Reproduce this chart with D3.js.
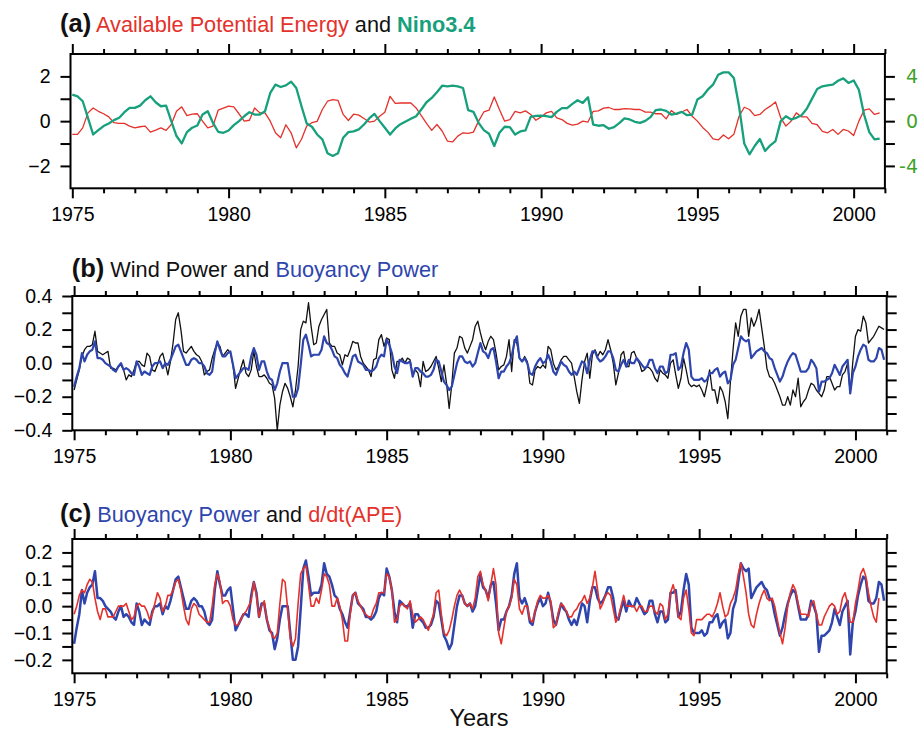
<!DOCTYPE html>
<html>
<head>
<meta charset="utf-8">
<script src="https://cdn.jsdelivr.net/npm/d3@7/dist/d3.min.js"></script>
<style>
  html, body { margin: 0; padding: 0; background: #fff; }
  svg { display: block; font-family: "Liberation Sans", Arial, Helvetica, sans-serif; }
</style>
</head>
<body>
<svg id="chart" width="919" height="732"></svg>
<script>
// ---- Data -------------------------------------------------------------
const startYear = 1975;               // first sample: January 1975
const yearTicks = d3.range(1975, 2002);
const yearLabels = [1975, 1980, 1985, 1990, 1995, 2000];

// Available potential energy (left axis) and Nino3.4 index (right axis), every 2 months
const ape = [
  -0.59,-0.59,-0.30,0.37,0.59,0.44,0.33,0.19,-0.07,-0.10,-0.10,-0.22,
  -0.30,-0.25,-0.22,-0.49,-0.40,-0.30,-0.41,-0.15,0.44,0.64,0.25,0.31,
  0.33,0.00,-0.30,-0.22,0.49,0.58,0.67,0.64,0.33,0.00,0.04,0.59,
  0.37,0.37,0.00,-0.52,-0.74,-0.16,-0.52,-1.19,-0.81,-0.22,-0.07,-0.01,
  0.52,0.89,0.96,0.93,0.30,0.03,0.31,0.27,0.12,-0.04,0.00,0.22,
  0.40,1.11,0.79,0.81,0.81,0.81,0.59,0.25,-0.10,-0.41,-0.15,-0.44,
  -0.89,-0.93,-0.67,-0.52,-0.55,-0.49,0.00,0.41,0.49,1.08,0.52,0.00,
  0.07,0.44,0.37,0.46,0.30,0.04,0.19,0.37,0.44,0.15,0.07,-0.10,
  -0.18,-0.13,0.00,-0.04,0.44,0.46,0.58,0.61,0.52,0.52,0.56,0.55,
  0.52,0.52,0.40,0.40,0.33,0.34,0.10,0.47,0.30,0.41,0.52,0.22,
  0.00,-0.28,-0.49,-0.79,-0.84,-0.62,-0.79,-0.59,0.22,0.62,0.52,0.25,
  0.30,0.52,0.67,0.86,0.15,-0.22,0.00,0.37,0.19,0.19,-0.10,-0.16,
  -0.46,-0.52,-0.37,-0.59,-0.37,-0.44,-0.64,0.00,0.49,0.55,0.30,0.37
];
const nino34 = [
  2.37,2.22,1.78,0.30,-1.19,-0.80,-0.44,-0.21,0.09,0.30,0.80,1.19,
  1.19,1.39,1.87,2.22,1.69,1.33,1.39,0.00,-1.33,-1.99,-0.98,-0.59,
  -0.39,0.59,0.89,-0.15,-0.95,-1.04,-0.83,-0.36,0.00,0.44,0.80,0.59,
  0.59,0.89,2.52,3.26,3.05,3.20,3.53,2.96,1.33,-0.21,-0.50,-1.19,
  -1.63,-2.87,-3.11,-2.87,-1.48,-0.98,-0.92,-0.74,-0.30,0.24,0.65,0.00,
  -0.59,-1.19,-0.65,-0.27,-0.03,0.21,0.44,1.04,1.69,2.07,2.58,3.17,
  3.11,3.17,3.11,2.96,0.98,0.83,-0.15,-0.80,-1.13,-2.22,-1.04,-0.50,
  -0.53,-1.19,-0.92,-0.83,0.39,0.47,0.50,0.44,0.36,0.83,1.16,1.16,
  1.54,1.87,1.63,2.13,-0.30,-0.41,-0.36,-0.68,-0.53,-0.18,0.24,0.15,
  -0.06,-0.15,0.03,0.36,0.98,1.04,0.92,0.59,0.68,0.83,0.53,0.59,
  1.93,2.22,2.81,3.26,4.15,4.36,4.36,3.85,1.33,-2.00,-2.96,-2.22,
  -1.60,-2.67,-2.16,-1.78,0.00,0.44,0.15,0.30,0.53,1.10,1.99,2.87,
  3.11,3.20,3.26,3.61,3.82,3.41,3.64,2.81,0.59,-0.98,-1.63,-1.57
];

// Monthly wind power
const windPower = [
  -0.16,-0.10,-0.04,0.04,0.08,0.10,0.10,0.11,0.19,0.07,0.06,0.05,
  0.06,0.07,-0.03,-0.03,-0.04,-0.02,-0.01,-0.04,-0.10,-0.07,-0.08,-0.04,
  0.01,0.01,-0.01,-0.02,0.06,0.04,-0.04,-0.05,-0.01,0.04,0.06,0.00,
  -0.07,0.01,0.12,0.26,0.30,0.20,0.07,0.06,0.08,0.10,0.07,0.05,
  0.04,0.01,-0.07,-0.05,-0.04,0.03,0.08,0.12,0.10,0.04,0.06,0.08,
  0.06,-0.01,-0.15,-0.09,-0.03,0.02,-0.06,-0.08,-0.04,0.07,-0.02,-0.08,
  -0.08,-0.07,-0.09,-0.12,-0.13,-0.21,-0.40,-0.25,-0.17,-0.12,-0.15,-0.20,
  -0.26,-0.16,-0.02,0.20,0.25,0.24,0.36,0.22,0.11,0.12,0.22,0.26,
  0.29,0.32,0.12,0.10,0.10,0.06,0.05,-0.01,0.05,0.04,0.08,0.13,
  0.12,0.12,0.04,0.00,-0.02,-0.04,-0.08,0.02,0.03,0.14,0.17,0.10,
  0.15,0.14,-0.04,-0.09,0.01,0.01,0.03,0.00,0.03,0.02,-0.07,-0.04,
  -0.06,-0.14,0.01,-0.05,-0.04,-0.02,0.01,0.04,-0.03,-0.11,-0.01,-0.12,
  -0.27,-0.13,0.06,0.09,0.16,0.15,0.09,0.06,0.10,0.14,0.22,0.25,
  0.18,0.12,0.08,0.13,0.16,0.14,0.06,-0.04,-0.02,-0.01,0.04,0.14,
  -0.05,0.14,0.12,0.03,0.01,0.04,0.01,-0.12,-0.13,-0.04,-0.02,-0.03,
  -0.01,-0.03,0.10,0.08,0.00,-0.04,-0.02,0.02,0.04,0.04,0.02,0.00,
  -0.08,-0.17,-0.24,-0.10,0.01,0.06,-0.09,0.05,0.08,0.04,0.07,0.05,
  0.08,0.14,0.08,0.00,-0.13,-0.06,0.05,0.07,-0.02,-0.02,0.06,0.07,
  0.03,0.00,-0.05,-0.04,-0.02,-0.03,-0.05,-0.09,-0.11,-0.04,-0.06,-0.07,
  -0.09,0.00,0.02,-0.07,-0.15,-0.09,0.03,-0.04,-0.12,-0.14,-0.13,-0.14,
  -0.13,-0.16,-0.20,-0.13,-0.04,-0.16,-0.16,-0.24,-0.14,-0.17,-0.23,-0.33,
  -0.11,0.08,0.24,0.16,0.28,0.32,0.32,0.16,0.27,0.22,0.26,0.32,
  0.21,0.10,-0.03,-0.08,-0.09,-0.12,-0.16,-0.20,-0.25,-0.25,-0.20,-0.25,
  -0.16,-0.20,-0.09,-0.26,-0.23,-0.21,-0.16,-0.12,-0.13,-0.16,-0.18,-0.20,
  -0.16,-0.08,-0.08,-0.12,-0.16,-0.14,-0.14,-0.07,-0.05,0.00,-0.18,0.01,
  0.16,0.20,0.19,0.28,0.24,0.12,0.14,0.16,0.19,0.22,0.21,0.20
];

// Monthly buoyancy power (shown in panels b and c)
const buoyancyPower = [
  -0.14,-0.08,-0.03,0.06,0.01,0.05,0.07,0.08,0.13,0.03,0.03,0.02,
  0.00,-0.01,-0.02,-0.04,-0.05,-0.02,0.00,-0.04,-0.03,-0.04,-0.06,-0.07,
  0.01,-0.02,-0.07,-0.05,-0.06,-0.07,-0.02,0.00,0.00,0.01,-0.03,0.00,
  -0.01,0.02,0.06,0.10,0.11,0.07,0.03,-0.01,-0.01,0.02,0.03,0.02,
  0.00,0.00,-0.02,-0.06,-0.07,-0.05,0.06,0.13,0.08,0.04,0.04,0.06,
  0.07,-0.01,-0.09,-0.07,-0.05,-0.03,-0.03,-0.04,0.04,0.09,0.05,-0.04,
  0.01,0.01,-0.05,-0.09,-0.10,-0.16,-0.12,-0.05,0.00,0.00,0.00,-0.10,
  -0.20,-0.20,-0.15,-0.01,0.14,0.17,0.11,0.04,0.05,0.05,0.05,0.08,
  0.16,0.12,0.11,0.08,0.04,0.03,-0.01,-0.03,-0.06,-0.08,-0.02,0.04,
  0.05,0.01,0.00,-0.01,-0.04,-0.04,-0.05,-0.04,-0.02,0.03,0.05,0.04,
  0.14,0.11,0.06,-0.02,-0.06,0.02,0.01,0.00,0.00,0.01,-0.08,-0.03,
  -0.03,-0.05,-0.06,-0.08,-0.08,-0.07,-0.04,0.02,0.01,-0.05,-0.11,-0.13,
  -0.16,-0.14,-0.07,0.00,0.04,0.04,0.01,0.00,0.01,-0.02,0.00,0.06,
  0.12,0.07,0.06,0.03,0.08,0.09,0.01,-0.09,-0.05,-0.05,-0.02,0.00,
  0.04,0.12,0.16,0.03,0.01,0.03,0.00,-0.06,-0.07,-0.02,0.01,0.03,
  0.00,0.01,0.05,0.01,-0.05,-0.07,-0.03,0.01,-0.01,-0.02,-0.05,-0.07,
  -0.05,-0.07,-0.03,0.01,0.00,-0.06,0.02,0.07,0.07,0.03,0.01,0.02,
  0.04,0.07,0.07,0.03,-0.04,-0.05,-0.01,0.02,-0.02,0.02,0.00,0.00,
  0.03,0.01,-0.01,-0.03,-0.02,0.02,0.02,-0.03,-0.06,-0.02,-0.02,-0.06,
  -0.05,0.05,0.05,0.06,-0.04,-0.02,0.06,0.12,0.08,-0.08,-0.10,-0.10,
  -0.10,-0.09,-0.11,-0.10,-0.06,-0.06,-0.04,-0.03,-0.08,-0.06,-0.05,-0.12,
  -0.10,-0.01,0.02,0.09,0.16,0.14,0.13,0.14,0.03,0.05,0.07,0.08,
  0.09,0.07,0.06,0.03,0.02,-0.03,-0.07,-0.11,-0.08,-0.03,0.01,0.04,
  0.06,0.05,0.00,-0.05,-0.05,-0.05,-0.03,0.02,0.00,-0.03,-0.17,-0.11,
  -0.11,-0.10,-0.09,-0.06,-0.01,-0.04,-0.07,-0.02,0.00,0.02,-0.18,-0.06,
  -0.02,0.04,0.08,0.11,0.10,0.02,0.01,0.01,0.03,0.09,0.08,0.02
];

// Monthly rate of change of available potential energy
const dAPEdt = [
  -0.03,0.00,0.04,0.06,0.05,0.08,0.10,0.09,0.03,-0.02,-0.05,-0.01,
  -0.01,-0.04,-0.04,-0.04,-0.02,0.00,0.00,0.00,0.01,-0.02,-0.05,-0.04,
  0.00,0.01,0.00,0.00,-0.02,-0.05,-0.03,0.01,0.05,0.03,-0.02,0.00,
  0.04,0.04,0.06,0.09,0.10,0.06,0.00,-0.05,-0.07,-0.01,0.01,0.00,
  -0.03,-0.04,-0.05,-0.06,-0.06,0.00,0.08,0.12,0.09,0.01,0.02,0.02,
  0.00,-0.05,-0.07,-0.07,-0.05,-0.03,-0.02,0.00,0.02,0.09,0.04,-0.04,
  0.00,0.02,-0.05,-0.08,-0.11,-0.12,-0.10,0.01,0.10,0.09,-0.01,-0.12,
  -0.15,-0.12,0.01,0.12,0.14,0.15,0.08,0.00,0.00,0.03,0.01,0.06,
  0.12,0.11,0.08,0.00,0.00,0.03,0.00,-0.05,-0.13,-0.13,-0.03,0.04,
  0.05,0.02,0.00,-0.02,-0.03,-0.04,-0.04,-0.01,0.01,0.05,0.05,0.05,
  0.12,0.11,0.06,-0.06,-0.05,0.00,0.01,0.00,-0.01,0.02,-0.03,-0.06,
  -0.05,-0.04,-0.05,-0.07,-0.09,-0.06,-0.03,0.05,0.06,-0.03,-0.10,-0.11,
  -0.09,-0.05,0.00,0.04,0.06,0.04,0.01,0.00,0.01,-0.01,0.03,0.11,
  0.13,0.08,0.06,0.02,0.08,0.14,0.08,-0.10,-0.14,-0.08,-0.02,0.00,
  0.03,0.10,0.08,-0.01,-0.03,0.00,0.00,-0.05,-0.06,-0.02,0.02,0.04,
  0.03,0.03,0.04,0.02,-0.08,-0.07,-0.02,0.01,0.00,-0.02,-0.04,-0.04,
  -0.02,-0.01,0.01,0.02,0.04,0.01,0.03,0.07,0.13,0.06,-0.01,0.01,
  0.04,0.05,0.04,-0.01,-0.06,-0.04,0.00,0.04,0.00,0.00,0.00,0.00,
  -0.02,0.00,0.00,-0.02,-0.02,0.00,0.00,-0.02,-0.03,0.01,0.00,-0.05,
  -0.03,0.05,0.08,0.04,-0.04,-0.05,0.03,0.06,-0.01,-0.10,-0.11,-0.05,
  -0.05,-0.05,-0.04,-0.03,-0.03,-0.04,-0.02,0.01,0.05,0.00,-0.04,-0.03,
  0.01,0.03,0.06,0.12,0.16,0.11,0.05,-0.03,-0.07,-0.08,-0.03,0.01,
  0.04,0.06,0.03,0.02,0.03,0.00,-0.05,-0.10,-0.14,-0.08,0.00,0.05,
  0.08,0.06,0.01,-0.03,-0.03,-0.03,-0.04,0.01,0.02,-0.03,-0.07,-0.07,
  -0.04,-0.02,0.00,0.01,0.00,-0.03,-0.02,0.03,0.05,0.01,-0.06,-0.06,
  0.01,0.06,0.12,0.14,0.11,0.05,0.00,-0.04,-0.06,0.03
];

// ---- Styling -------------------------------------------------------------
const COLORS = {
  red: "#e4312b",
  green: "#17a07c",
  greenAxis: "#3fa22b",
  blue: "#2e45ad",
  black: "#111111"
};
const FONT = '"Liberation Sans", Arial, Helvetica, sans-serif';
const TITLE_SIZE = 21.7;
const PLOT_W = 814.4, PLOT_H = 134.3;
const yearDomain = [1974.942, 2001.0];

const svg = d3.select("#chart");

function series(values, stepMonths) {
  return values.map((v, i) => ({ t: startYear + (i * stepMonths) / 12, v }));
}

const minus = s => s.replace("-", "\u2212");

function styleAxis(sel, fontSize) {
  sel.select(".domain").remove();
  sel.selectAll(".tick line").attr("stroke", "#000").attr("stroke-width", 2);
  sel.selectAll(".tick text")
    .attr("fill", "#000")
    .style("font-family", FONT)
    .style("font-size", fontSize + "px");
  sel.attr("font-family", null).attr("font-size", null);
}

function drawPanel(p) {
  const g = svg.append("g").attr("transform", `translate(${p.left},${p.top})`);
  const x = d3.scaleLinear().domain(yearDomain).range([0, PLOT_W]);
  const y = d3.scaleLinear().domain(p.yDomain).range([PLOT_H, 0]);

  const minorYears = yearTicks.filter(d => d % 5 !== 0);

  // Year ticks on the bottom (labelled) and on the top
  g.append("g").attr("transform", `translate(0,${PLOT_H})`)
    .call(d3.axisBottom(x).tickValues(minorYears).tickSize(5).tickFormat(""))
    .call(s => styleAxis(s, 19.5));
  g.append("g").attr("transform", `translate(0,${PLOT_H})`)
    .call(d3.axisBottom(x).tickValues(yearLabels).tickSize(10).tickPadding(8.5).tickFormat(d3.format("d")))
    .call(s => styleAxis(s, 19.5));
  g.append("g")
    .call(d3.axisTop(x).tickValues(minorYears).tickSize(5).tickFormat(""))
    .call(s => styleAxis(s, 19.5));
  g.append("g")
    .call(d3.axisTop(x).tickValues(yearLabels).tickSize(10).tickFormat(""))
    .call(s => styleAxis(s, 19.5));

  // Left value axis
  const isLabel = d => p.yLabels.some(l => Math.abs(l - d) < 1e-9);
  g.append("g")
    .call(d3.axisLeft(y).tickValues(p.yTicks).tickSize(10).tickPadding(10)
      .tickFormat(d => isLabel(d) ? minus(p.yFormat(d)) : ""))
    .call(s => styleAxis(s, 19.5));

  // Right axis
  if (p.right) {
    const yR = d3.scaleLinear().domain(p.right.domain).range([PLOT_H, 0]);
    const isR = d => p.right.labels.some(l => Math.abs(l - d) < 1e-9);
    g.append("g").attr("transform", `translate(${PLOT_W},0)`)
      .call(d3.axisRight(yR).tickValues(p.right.ticks).tickSize(10)
        .tickFormat(d => isR(d) ? String(d) : ""))
      .call(s => styleAxis(s, 19))
      .call(s => s.selectAll(".tick text")
        .attr("text-anchor", "end")
        .attr("x", 918 - p.left - PLOT_W)
        .attr("fill", COLORS.greenAxis)
        .style("font-family", '"DejaVu Sans", Verdana, sans-serif'));
    p.yRight = yR;
  } else {
    g.append("g").attr("transform", `translate(${PLOT_W},0)`)
      .call(d3.axisRight(y).tickValues(p.yTicks).tickSize(10).tickFormat(""))
      .call(s => styleAxis(s, 19.5));
  }

  // Data lines
  p.lines.forEach(l => {
    const yy = l.axis === "right" ? p.yRight : y;
    const line = d3.line().x(d => x(d.t)).y(d => yy(d.v));
    g.append("path")
      .datum(l.data)
      .attr("d", line)
      .attr("fill", "none")
      .attr("stroke", l.color)
      .attr("stroke-width", l.width)
      .attr("stroke-linejoin", "round");
  });

  // Frame
  g.append("rect")
    .attr("width", PLOT_W).attr("height", PLOT_H)
    .attr("fill", "none").attr("stroke", "#000").attr("stroke-width", 2);
}

function title(xPos, yPos, parts) {
  const t = svg.append("text")
    .attr("x", xPos).attr("y", yPos)
    .style("white-space", "pre")
    .style("font-family", FONT);
  parts.forEach(pt => {
    t.append("tspan")
      .text(pt.text)
      .attr("fill", pt.color || "#111")
      .style("font-weight", pt.bold ? "bold" : "normal")
      .style("font-size", (pt.size || TITLE_SIZE) + "px");
  });
}

// ---- Panel (a) -------------------------------------------------------------
drawPanel({
  left: 70.5, top: 54,
  yDomain: [-3, 3],
  yTicks: [-2, -1, 0, 1, 2],
  yLabels: [-2, 0, 2],
  yFormat: d3.format("d"),
  right: { domain: [-6, 6], ticks: [-4, -2, 0, 2, 4], labels: [-4, 0, 4] },
  lines: [
    { data: series(ape, 2), color: COLORS.red, width: 1.3 },
    { data: series(nino34, 2), color: COLORS.green, width: 2.3, axis: "right" }
  ]
});
title(60, 31.5, [
  { text: "(a)", bold: true, size: 25.5 },
  { text: " Available Potential Energy", color: COLORS.red },
  { text: " and ", color: "#111" },
  { text: "Nino3.4", color: COLORS.green, bold: true }
]);

// ---- Panel (b) -------------------------------------------------------------
drawPanel({
  left: 72.3, top: 296,
  yDomain: [-0.4, 0.4],
  yTicks: [-0.4, -0.3, -0.2, -0.1, 0, 0.1, 0.2, 0.3, 0.4],
  yLabels: [-0.4, -0.2, 0, 0.2, 0.4],
  yFormat: d3.format(".1f"),
  lines: [
    { data: series(windPower, 1), color: COLORS.black, width: 1.3 },
    { data: series(buoyancyPower, 1), color: COLORS.blue, width: 2.2 }
  ]
});
title(71.7, 276.7, [
  { text: "(b)", bold: true, size: 25.5 },
  { text: " Wind Power and ", color: "#111" },
  { text: "Buoyancy Power", color: COLORS.blue }
]);

// ---- Panel (c) -------------------------------------------------------------
drawPanel({
  left: 72.3, top: 539,
  yDomain: [-0.25, 0.25],
  yTicks: [-0.2, -0.15, -0.1, -0.05, 0, 0.05, 0.1, 0.15, 0.2],
  yLabels: [-0.2, -0.1, 0, 0.1, 0.2],
  yFormat: d3.format(".1f"),
  lines: [
    { data: series(buoyancyPower, 1), color: COLORS.blue, width: 2.5 },
    { data: series(dAPEdt, 1), color: COLORS.red, width: 1.6 }
  ]
});
title(60, 521.7, [
  { text: "(c)", bold: true, size: 25.5 },
  { text: " Buoyancy Power", color: COLORS.blue },
  { text: " and ", color: "#111" },
  { text: "d/dt(APE)", color: COLORS.red }
]);

// Shared x-axis caption
svg.append("text")
  .attr("x", 479).attr("y", 726)
  .attr("text-anchor", "middle")
  .style("font-family", FONT)
  .style("font-size", "23.5px")
  .attr("fill", "#111")
  .text("Years");
</script>
</body>
</html>
